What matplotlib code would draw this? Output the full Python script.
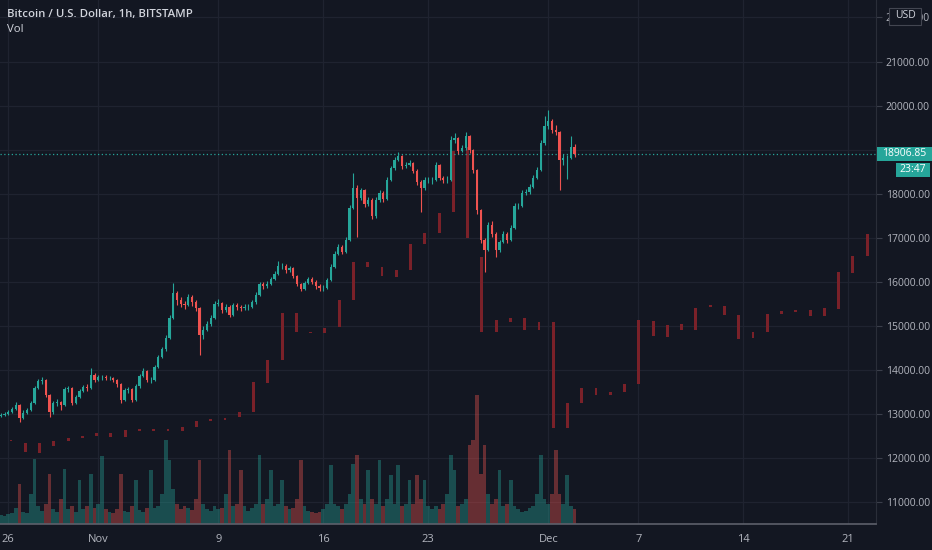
import numpy as np
import pandas as pd
import matplotlib
matplotlib.use("Agg")
import matplotlib.pyplot as plt
import matplotlib.dates as mdates
from matplotlib.patches import Rectangle

plt.rcParams["font.family"] = ["Open Sans", "DejaVu Sans"]

BG = "#131722"
GRID = "#1f2330"
TEXT = "#b2b5be"
UP = "#26a69a"
DOWN = "#ef5350"
GHOST = "#7a2129"

# 6h bars, BTC/USD
first_open = 12950
closes = [
    12980, 13000, 13040, 13110, 13200, 12910, 13020, 13090, 13250, 13590,
    13750, 13770, 13430, 13040, 13250, 13270, 13200, 13570, 13590, 13250,
    13390, 13520, 13610, 13590, 13890, 13770, 13840, 13840, 13820, 13820,
    13770, 13680, 13320, 13540, 13570, 13320, 13630, 13860, 13980, 13770,
    13770, 14070, 14290, 14470, 14720, 15180, 15750, 15590, 15500, 15470,
    15660, 15540, 15410, 14790, 14910, 15040, 15180, 15500, 15520, 15360,
    15430, 15250, 15470, 15430, 15410, 15430, 15430, 15540, 15700, 15950,
    15900, 15950, 16060, 16180, 16360, 16360, 16270, 16310, 16130, 15950,
    15840, 15970, 16060, 16000, 15900, 15860, 15860, 16040, 16340, 16630,
    16790, 16680, 16950, 17680, 18130, 17900, 18080, 17770, 17860, 17490,
    17860, 18020, 17880, 18310, 18580, 18770, 18860, 18630, 18650, 18700,
    18520, 18270, 18130, 18310, 18310, 18310, 18650, 18360, 18310, 18310,
    19220, 19260, 18970, 19040, 19310, 18990, 18540, 17630, 16950, 16720,
    17290, 17090, 16720, 16900, 17090, 16950, 17220, 17720, 17720, 18020,
    18040, 18150, 18360, 18540, 19150, 19540, 19650, 19450, 19400, 18770,
    18810, 18810, 19060, 18906.85,
]
highs = [
    13020, 13050, 13090, 13150, 13270, 13220, 13080, 13130, 13300, 13640,
    13790, 13830, 13790, 13450, 13300, 13330, 13300, 13610, 13640, 13610,
    13440, 13560, 13660, 13680, 14040, 13920, 13880, 13890, 13880, 13870,
    13850, 13790, 13700, 13590, 13620, 13590, 13680, 13910, 14040, 14000,
    13830, 14120, 14340, 14520, 14790, 15250, 15980, 15800, 15650, 15560,
    15720, 15690, 15580, 15430, 14990, 15110, 15250, 15560, 15600, 15550,
    15490, 15470, 15530, 15510, 15480, 15490, 15500, 15590, 15760, 16000,
    15990, 16010, 16120, 16240, 16480, 16420, 16400, 16370, 16340, 16160,
    15980, 16020, 16110, 16100, 16030, 15940, 15920, 16090, 16400, 16690,
    16850, 16830, 17020, 17750, 18470, 18200, 18140, 18110, 17930, 17900,
    17920, 18090, 18060, 18370, 18640, 18830, 18950, 18880, 18720, 18770,
    18730, 18550, 18300, 18370, 18380, 18390, 18720, 18680, 18400, 18410,
    19300, 19380, 19280, 19110, 19410, 19340, 19010, 18560, 17660, 17000,
    17350, 17380, 17120, 16960, 17150, 17120, 17280, 17780, 17800, 18080,
    18110, 18210, 18420, 18600, 19220, 19760, 19900, 19700, 19560, 19420,
    18900, 18880, 19300, 19120,
]
lows = [
    12920, 12950, 12980, 13020, 13090, 12820, 12880, 12990, 13060, 13230,
    13560, 13690, 13380, 12930, 13000, 13180, 13090, 13180, 13500, 13210,
    13230, 13360, 13490, 13520, 13570, 13720, 13740, 13780, 13770, 13760,
    13720, 13620, 13250, 13290, 13480, 13280, 13300, 13600, 13830, 13720,
    13700, 13750, 14040, 14260, 14440, 14700, 15150, 15480, 15420, 15380,
    15440, 15460, 15340, 14340, 14700, 14880, 15000, 15150, 15440, 15300,
    15320, 15190, 15220, 15370, 15340, 15360, 15370, 15400, 15500, 15680,
    15830, 15860, 15920, 16030, 16150, 16290, 16200, 16230, 16080, 15900,
    15780, 15810, 15940, 15950, 15840, 15800, 15790, 15830, 16010, 16310,
    16600, 16620, 16650, 16920, 17650, 17010, 17850, 17700, 17720, 17430,
    17450, 17820, 17820, 17850, 18280, 18540, 18740, 18570, 18580, 18620,
    18460, 18200, 17580, 18080, 18240, 18220, 18280, 18300, 18240, 18250,
    18280, 19150, 18900, 18950, 19000, 18930, 18470, 17550, 16880, 16220,
    16690, 17020, 16560, 16680, 16870, 16890, 16930, 17190, 17650, 17690,
    17970, 18000, 18130, 18330, 18520, 19100, 19480, 19380, 19330, 18080,
    18650, 18340, 18780, 18840,
]
volumes = [
    90, 80, 100, 110, 160, 400, 120, 110, 300, 650,
    180, 130, 200, 500, 150, 120, 250, 550, 150, 180,
    120, 440, 150, 180, 500, 160, 200, 680, 150, 120,
    110, 150, 500, 130, 120, 180, 440, 140, 120, 160,
    540, 160, 180, 300, 840, 640, 350, 200, 150, 180,
    160, 140, 250, 640, 200, 150, 130, 180, 150, 160,
    300, 740, 180, 200, 540, 180, 130, 160, 200, 690,
    200, 250, 540, 180, 200, 440, 180, 150, 160, 250,
    640, 180, 130, 120, 110, 120, 150, 200, 590, 200,
    180, 150, 200, 300, 600, 690, 250, 200, 540, 250,
    200, 640, 180, 250, 490, 200, 590, 180, 200, 440,
    200, 490, 250, 440, 180, 150, 180, 150, 200, 300,
    690, 540, 180, 200, 250, 790, 840, 1290, 500, 790,
    300, 200, 250, 540, 180, 200, 440, 180, 150, 120,
    130, 160, 180, 300, 690, 250, 200, 300, 740, 300,
    200, 490, 180, 150,
]

# overlay series drawn in dark red behind the candles (its own bar index)
ghost_low = [
    12380, 12140, 12110, 12270, 12390, 12450, 12500, 12480, 12480, 12620,
    12620, 12620, 12610, 12700, 12850, 12860, 12930, 13040, 13700, 14230,
    14860, 14840, 14840, 14970, 15590, 16340, 16130, 16110, 16270, 16860,
    17110, 17590, 16990, 14860, 14860, 15090, 14910, 14910, 12680, 12680,
    13250, 13430, 13430, 13500, 13680, 14770, 14750, 14910, 14910, 15430,
    15250, 14700, 14730, 14860, 15270, 15320, 15220, 15220, 15380, 16200,
    16590,
]
ghost_high = [
    12410, 12340, 12340, 12390, 12450, 12500, 12570, 12570, 12640, 12650,
    12650, 12650, 12700, 12840, 12880, 12910, 13040, 13730, 14230, 15290,
    15290, 14870, 14950, 15590, 16450, 16450, 16340, 16270, 16860, 17110,
    17560, 18970, 19060, 16560, 15130, 15180, 15180, 15090, 15090, 13250,
    13590, 13590, 13500, 13680, 15130, 15110, 15020, 15040, 15410, 15470,
    15450, 15250, 14860, 15270, 15340, 15360, 15360, 15410, 16220, 16590,
    17090,
]

price_ticks = [11000, 12000, 13000, 14000, 15000, 16000, 17000, 18000,
               19000, 20000, 21000, 22000]
hidden_ticks = [19000]  # covered by the last-price label
date_ticks = ["2020-10-26", "2020-11-01", "2020-11-09", "2020-11-16",
              "2020-11-23", "2020-12-01", "2020-12-07", "2020-12-14",
              "2020-12-21"]
date_labels = ["26", "Nov", "9", "16", "23", "Dec", "7", "14", "21"]
last_price = 18906.85

W, H = 932, 550
fig = plt.figure(figsize=(W / 100, H / 100), dpi=100, facecolor=BG)
rect = [0, 26 / H, 876 / W, 524 / H]

ax_bg = fig.add_axes(rect)
ax_g = fig.add_axes(rect)
ax_v = fig.add_axes(rect)
ax = fig.add_axes(rect)
ax_bg.set_facecolor(BG)
for z, a in enumerate((ax_bg, ax_g, ax_v, ax)):
    a.set_zorder(z)
    if z:
        a.patch.set_visible(False)

times = pd.date_range("2020-10-25 12:00", periods=len(closes), freq="6h")
t = mdates.date2num(times.to_pydatetime())
opens = np.array([first_open] + closes[:-1], dtype=float)
closes_a = np.array(closes, dtype=float)
up = closes_a >= opens
colors = np.where(up, UP, DOWN)

t0 = mdates.date2num(pd.Timestamp("2020-10-26").to_pydatetime())
xlim = (t0 - 0.553, t0 + 57.85)
ylim = (10502, 22397)
dticks = mdates.date2num([pd.Timestamp(d).to_pydatetime() for d in date_ticks])

# grid on the bottom layer
for p in price_ticks:
    ax_bg.axhline(p, color=GRID, lw=0.9)
for d in dticks:
    ax_bg.axvline(d, color=GRID, lw=0.9)
ax_bg.set_xlim(xlim)
ax_bg.set_ylim(ylim)
ax_bg.axis("off")

# ghost bars
k = np.arange(len(ghost_low))
ax_g.bar(k, np.array(ghost_high) - np.array(ghost_low), bottom=ghost_low,
         width=0.2, color=GHOST)
ax_g.set_xlim(-0.771, 60.62)
ax_g.set_ylim(ylim)
ax_g.axis("off")

# volume
vol_colors = [(0.15, 0.65, 0.6, 0.38) if u else (0.94, 0.33, 0.31, 0.38) for u in up]
ax_v.bar(t, volumes, width=0.25, color=vol_colors, linewidth=0)
ax_v.set_xlim(xlim)
ax_v.set_ylim(0, 5240)
ax_v.axis("off")

# candles
ax.vlines(t, lows, highs, colors=colors, lw=0.8, zorder=3)
ax.bar(t, np.abs(closes_a - opens), bottom=np.minimum(opens, closes_a),
       width=0.14, color=colors, zorder=4)
ax.axhline(last_price, color=UP, lw=0.9, ls=(0, (1, 2)), zorder=2)

ax.set_xlim(xlim)
ax.set_ylim(ylim)
ax.set_xticks(dticks)
ax.set_xticklabels(date_labels)
ax.set_yticks(price_ticks)
ax.set_yticklabels(["" if p in hidden_ticks else f"{p:.2f}" for p in price_ticks])
ax.yaxis.tick_right()
ax.tick_params(axis="y", colors=TEXT, labelsize=7.5, length=4, width=0.8,
               pad=3, color="#3a3e4a")
ax.tick_params(axis="x", colors=TEXT, labelsize=8, length=0, pad=7)
for s in ("top", "left"):
    ax.spines[s].set_visible(False)
ax.spines["right"].set_color("#2a2e39")
ax.spines["bottom"].set_color("#5d606b")
ax.spines["bottom"].set_linewidth(1.2)


def px(x, y):
    return x / W, 1 - y / H


# last price label and countdown
fig.patches.append(Rectangle(px(877, 161), 55 / W, 14 / H, transform=fig.transFigure,
                             facecolor=UP, edgecolor="none", zorder=5))
fig.text(*px(882, 154), f"{last_price:.2f}", color="white", fontsize=7.5,
         va="center", ha="left", zorder=6)
fig.patches.append(Rectangle(px(896, 177), 34 / W, 14 / H, transform=fig.transFigure,
                             facecolor=UP, edgecolor="none", zorder=5))
fig.text(*px(913, 170), "23:47", color="white", fontsize=7.5,
         va="center", ha="center", zorder=6)

# currency box (sits over the top price label, as in the app)
fig.patches.append(Rectangle(px(889, 25), 32 / W, 17 / H, transform=fig.transFigure,
                             facecolor=BG, edgecolor="#434651", lw=0.8, zorder=5))
fig.text(*px(905, 16), "USD", color="#d1d4dc", fontsize=7.5,
         va="center", ha="center", zorder=6)

# legend text
fig.text(*px(7, 15), "Bitcoin / U.S. Dollar, 1h, BITSTAMP", color="#d1d4dc",
         fontsize=8.2, fontweight="semibold", va="center", ha="left")
fig.text(*px(7, 29), "Vol", color="#d1d4dc", fontsize=8.2, va="center", ha="left")

fig.savefig("out.png", dpi=100, facecolor=BG)
